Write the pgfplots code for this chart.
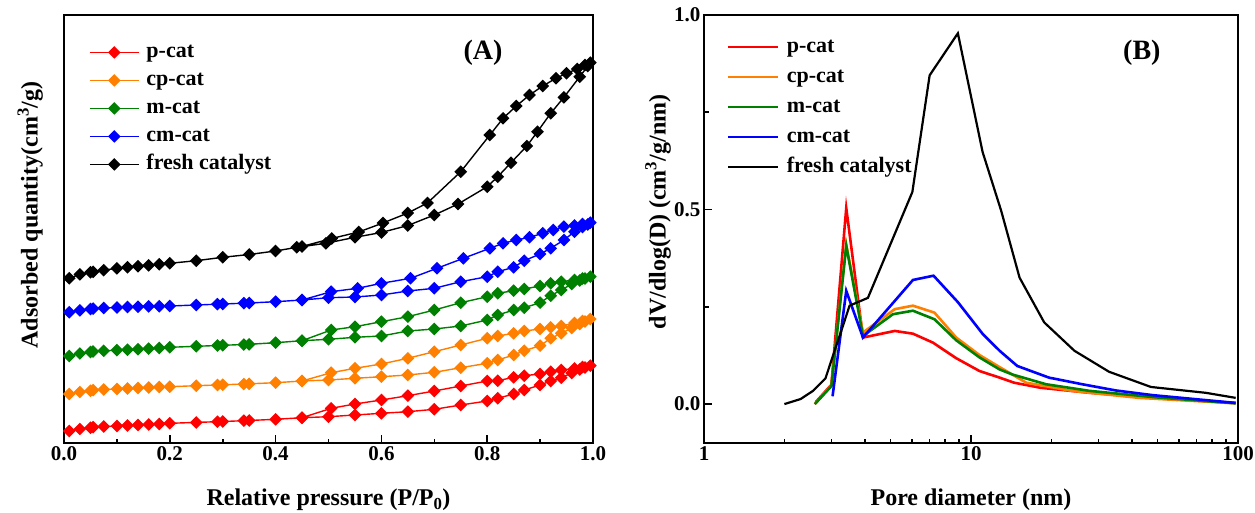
\documentclass[border=0pt]{standalone}
\usepackage{fontspec}
\setmainfont{Liberation Serif}
\usepackage{pgfplots}
\pgfplotsset{compat=1.18}
\definecolor{cred}{RGB}{255,0,0}
\definecolor{corange}{RGB}{255,128,0}
\definecolor{cgreen}{RGB}{0,128,0}
\definecolor{cblue}{RGB}{0,0,255}

\pgfplotsset{
  panel/.style={
    scale only axis, clip=false,
    axis line style={line width=2.2pt},
    tick align=inside,
    xtick pos=left, ytick pos=left,
    major tick length=8pt, minor tick length=4.5pt,
    tick style={black, line width=1.6pt},
    tick label style={font=\fontsize{21}{24}\selectfont\bfseries},
    /pgf/number format/assume math mode=true,
    label style={font=\fontsize{24}{28}\selectfont\bfseries},
    legend cell align=left,
  },
  iso/.style={line width=1.4pt, mark=square*, mark size=3.8pt, mark options={rotate=45, solid}},
  psd/.style={line width=2.6pt},
}

\begin{document}
\begin{tikzpicture}
\useasboundingbox (0pt,0pt) rectangle (1255pt,512pt);

% (A) isotherms, y in arbitrary (offset) units
\begin{axis}[panel,
  at={(64pt,69pt)}, anchor=south west, width=529pt, height=428pt,
  xmin=0, xmax=1, ymin=69, ymax=497,
  xtick={0,0.2,0.4,0.6,0.8,1.0}, minor x tick num=1, ytick=\empty,
  xticklabel style={/pgf/number format/.cd, fixed, fixed zerofill, precision=1},
  xlabel={Relative pressure (P/P\textsubscript{0})},
  ylabel={Adsorbed quantity(cm\textsuperscript{3}/g)},
  xlabel style={at={(axis description cs:0.5,-0.146)}, anchor=base},
  ylabel style={at={(axis description cs:-0.064,0.533)}, anchor=center},
  legend style={draw=none, fill=none, inner sep=0pt, row sep=5pt,
    font=\fontsize{22}{26}\selectfont\bfseries,
    nodes={inner sep=0pt, text height=17pt, text depth=6pt},
    at={(0.047,0.940)}, anchor=north west},
  legend image code/.code={\draw[mark repeat=2, mark phase=2, #1] plot coordinates {(0pt,0pt) (24.5pt,0pt) (49pt,0pt)}; \path (56pt,0pt);},
]
\addplot[iso, color=cred] coordinates {
(0.01,81) (0.03,83) (0.05,84.3) (0.055,84.8) (0.075,85.5) (0.1,86) (0.12,86.5) (0.14,87) (0.16,87.5) (0.18,88)
(0.2,88.7) (0.25,89.6) (0.29,90.3) (0.3,90.5) (0.34,91.3) (0.35,91.5) (0.4,92.7) (0.45,94.3) (0.5,95.3) (0.55,97)
(0.6,98.7) (0.65,100.3) (0.7,102.7) (0.75,107) (0.8,111) (0.82,113.7) (0.85,118) (0.87,122) (0.9,127) (0.92,131)
(0.94,134.3) (0.96,139) (0.975,142.5) (0.985,144.5) (0.995,146.3)
(0.98,145) (0.965,143.5) (0.94,142) (0.92,140.3) (0.9,138) (0.87,136.3) (0.85,134.7) (0.82,131.3) (0.8,131)
(0.75,126) (0.7,121) (0.65,116.3) (0.6,112) (0.55,108) (0.505,103.7) (0.45,94.3)};
\addlegendentry{p-cat}
\addplot[iso, color=corange] coordinates {
(0.01,118) (0.03,120) (0.05,121.3) (0.055,121.8) (0.075,122.5) (0.1,123) (0.12,123.5) (0.14,124) (0.16,124.5) (0.18,125)
(0.2,125.3) (0.25,126.3) (0.29,127) (0.3,127.2) (0.34,128) (0.35,128.2) (0.4,129.3) (0.45,131) (0.5,132) (0.55,133.7)
(0.6,135.3) (0.65,137) (0.7,139.7) (0.75,144.3) (0.8,148.7) (0.82,152) (0.85,157) (0.87,161.3) (0.9,166.3) (0.92,173.7)
(0.94,178.7) (0.96,184) (0.975,188) (0.985,190.5) (0.995,193)
(0.98,191) (0.965,189) (0.94,186) (0.92,184.7) (0.9,183) (0.87,181) (0.85,178.7) (0.82,176) (0.8,173.7)
(0.75,167) (0.7,160.3) (0.65,153.7) (0.6,148) (0.55,143.7) (0.505,139.3) (0.45,131)};
\addlegendentry{cp-cat}
\addplot[iso, color=cgreen] coordinates {
(0.01,156) (0.03,158.5) (0.05,160) (0.055,160.5) (0.075,161.2) (0.1,161.8) (0.12,162.3) (0.14,162.8) (0.16,163.3) (0.18,164)
(0.2,164.7) (0.25,165.7) (0.29,166.5) (0.3,166.7) (0.34,167.5) (0.35,167.7) (0.4,169.3) (0.45,171.3) (0.5,172.7) (0.55,174.7)
(0.6,176) (0.65,181) (0.7,183) (0.75,186) (0.8,192) (0.82,197) (0.85,202) (0.87,204.3) (0.9,209.3) (0.92,216.3)
(0.94,222) (0.96,228) (0.975,231.5) (0.985,233.5) (0.995,235.3)
(0.98,233.5) (0.965,232) (0.94,230.3) (0.92,228.7) (0.9,226) (0.87,223) (0.85,221.3) (0.82,218.7) (0.8,215.3)
(0.75,209.3) (0.7,202) (0.65,195.3) (0.6,190.3) (0.55,185.3) (0.505,182) (0.45,171.3)};
\addlegendentry{m-cat}
\addplot[iso, color=cblue] coordinates {
(0.01,199.7) (0.03,201.7) (0.05,203) (0.055,203.4) (0.075,204) (0.1,204.5) (0.12,205) (0.14,205.3) (0.16,205.6) (0.18,205.8)
(0.2,206) (0.25,207) (0.29,207.8) (0.3,208) (0.34,208.8) (0.35,209) (0.4,210.3) (0.45,212) (0.5,214.3) (0.55,215)
(0.6,217) (0.65,221) (0.7,223.7) (0.75,230.3) (0.8,235.3) (0.82,240.3) (0.85,244.7) (0.87,251.3) (0.9,258) (0.92,263.7)
(0.945,272) (0.965,280.3) (0.98,285) (0.99,287.5) (0.995,289.3)
(0.98,288) (0.965,286.5) (0.945,285.3) (0.925,282) (0.905,278.7) (0.88,274.7) (0.855,272) (0.83,268.7) (0.805,263.7)
(0.755,253.7) (0.705,243.7) (0.655,233.7) (0.6,228.7) (0.555,223.7) (0.505,220.3) (0.45,212)};
\addlegendentry{cm-cat}
\addplot[iso, color=black] coordinates {
(0.01,233.7) (0.03,237.7) (0.05,239.7) (0.055,240.2) (0.075,241.8) (0.1,243.7) (0.12,244.7) (0.14,245.7) (0.16,246.7) (0.18,247.7)
(0.2,248.7) (0.25,251.3) (0.3,254.7) (0.35,257.5) (0.4,261) (0.44,264.7) (0.495,268.7) (0.55,274.7) (0.6,279.5) (0.65,286.5)
(0.7,297) (0.745,308) (0.8,325.3) (0.82,335.3) (0.845,349.3) (0.875,366) (0.895,380.3) (0.92,398.7) (0.945,414.7) (0.975,435.3)
(0.99,446) (0.995,449.3)
(0.985,447) (0.97,443) (0.95,438.7) (0.93,433.7) (0.905,426) (0.88,417) (0.855,406) (0.83,393.7) (0.805,377)
(0.75,340.3) (0.687,309) (0.65,299) (0.603,289) (0.557,280) (0.506,273.5) (0.45,265.5)};
\addlegendentry{fresh catalyst}
\node[font=\fontsize{28}{32}\selectfont\bfseries] at (rel axis cs:0.792,0.911) {(A)};
\end{axis}

% (B) pore size distribution
\begin{axis}[panel,
  at={(704pt,69pt)}, anchor=south west, width=534pt, height=428pt,
  xmode=log, xmin=1, xmax=100, ymin=-0.1, ymax=1.0,
  xtick={1,10,100}, xticklabels={1,10,100},
  ytick={0,0.5,1.0}, minor y tick num=1,
  yticklabel style={/pgf/number format/.cd, fixed, fixed zerofill, precision=1},
  xlabel={Pore diameter (nm)},
  ylabel={dV/dlog(D) (cm\textsuperscript{3}/g/nm)},
  xlabel style={at={(axis description cs:0.5,-0.146)}, anchor=base},
  ylabel style={at={(axis description cs:-0.086,0.54)}, anchor=center},
  legend style={draw=none, fill=none, inner sep=0pt, row sep=7pt,
    font=\fontsize{22}{26}\selectfont\bfseries,
    nodes={inner sep=0pt, text height=17pt, text depth=6pt},
    at={(0.043,0.953)}, anchor=north west},
  legend image code/.code={\draw[#1] (0pt,0pt) -- (50pt,0pt); \path (57pt,0pt);},
]
\addplot[psd, color=cred] coordinates {
(2.62,0.005) (3.0,0.05) (3.41,0.504) (3.94,0.171) (5.18,0.188) (6.06,0.181) (7.2,0.158) (8.8,0.118)
(10.76,0.085) (12.8,0.068) (14.5,0.055) (18.2,0.042) (27.8,0.029) (50,0.015) (98,0.003)};
\addlegendentry{p-cat}
\addplot[psd, color=corange] coordinates {
(2.6,0.0) (3.0,0.048) (3.41,0.41) (3.94,0.184) (5.18,0.244) (6.06,0.253) (7.3,0.235) (8.8,0.171)
(10.76,0.126) (12.8,0.095) (16.1,0.055) (23.9,0.034) (42.6,0.016) (98,0.002)};
\addlegendentry{cp-cat}
\addplot[psd, color=cgreen] coordinates {
(2.6,0.0) (3.0,0.046) (3.41,0.407) (3.94,0.175) (5.1,0.231) (6.06,0.24) (7.3,0.218) (8.8,0.164)
(10.76,0.12) (12.8,0.089) (14.3,0.076) (19.1,0.051) (27.8,0.034) (50,0.017) (98,0.002)};
\addlegendentry{m-cat}
\addplot[psd, color=cblue] coordinates {
(3.03,0.02) (3.41,0.291) (3.94,0.171) (6.06,0.319) (7.24,0.33) (8.93,0.262) (11.07,0.18) (12.8,0.137)
(14.9,0.098) (19.6,0.068) (26.1,0.051) (34.9,0.035) (47.9,0.023) (98,0.003)};
\addlegendentry{cm-cat}
\addplot[psd, line width=2.2pt, color=black] coordinates {
(2.0,0.0) (2.3,0.013) (2.56,0.034) (2.85,0.066) (3.51,0.253) (4.11,0.273) (6.03,0.545) (7.0,0.845)
(8.93,0.953) (11.05,0.648) (12.97,0.497) (15.2,0.325) (18.8,0.21) (24.4,0.137) (32.9,0.083) (47.2,0.044)
(75.7,0.029) (98,0.016)};
\addlegendentry{fresh catalyst}
\node[font=\fontsize{28}{32}\selectfont\bfseries] at (rel axis cs:0.820,0.911) {(B)};
\end{axis}
\end{tikzpicture}
\end{document}
